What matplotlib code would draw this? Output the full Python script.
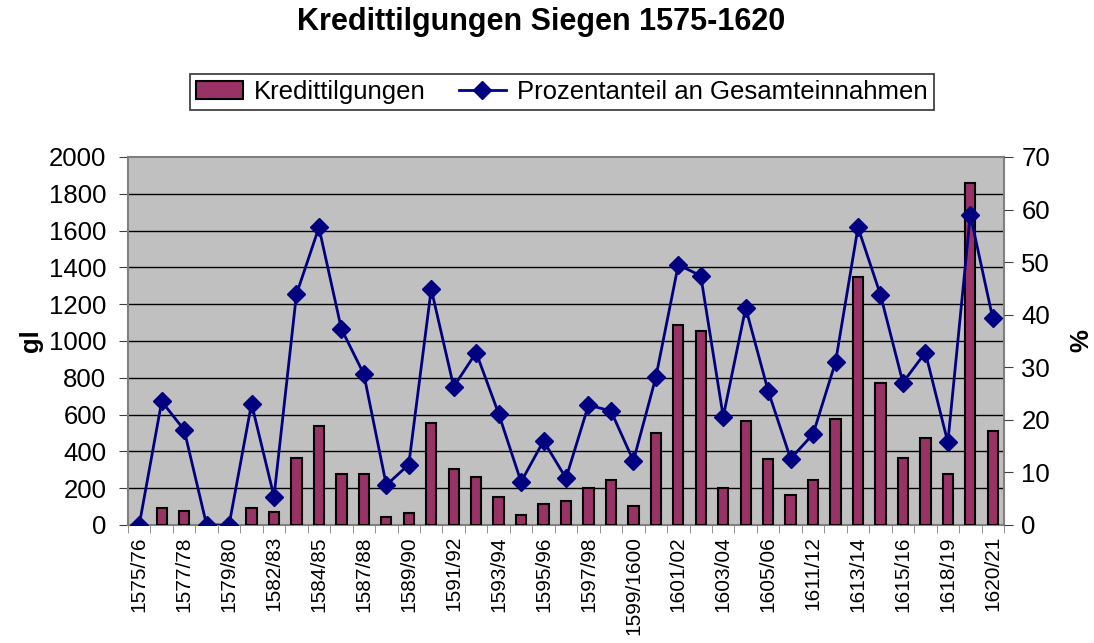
import matplotlib.pyplot as plt
import numpy as np

plt.rcParams['font.family'] = ['Liberation Sans', 'DejaVu Sans']

# Rechnungsjahre (nur jedes zweite wird beschriftet)
jahre = ['1575/76', '1576/77', '1577/78', '1578/79', '1579/80', '1581/82',
         '1582/83', '1583/84', '1584/85', '1586/87', '1587/88', '1588/89',
         '1589/90', '1590/91', '1591/92', '1592/93', '1593/94', '1594/95',
         '1595/96', '1596/97', '1597/98', '1598/99', '1599/1600', '1600/01',
         '1601/02', '1602/03', '1603/04', '1604/05', '1605/06', '1606/07',
         '1611/12', '1612/13', '1613/14', '1614/15', '1615/16', '1617/18',
         '1618/19', '1619/20', '1620/21']

# Kredittilgungen in gl
tilgung = [0, 90, 78, 0, 0, 92, 69, 362, 538, 275, 275, 43, 65, 556, 306,
           263, 152, 53, 116, 132, 203, 243, 101, 498, 1085, 1052, 203, 565,
           361, 161, 243, 576, 1348, 772, 362, 471, 277, 1860, 513]

# Prozentanteil an Gesamteinnahmen
prozent = [0, 23.5, 18.1, 0, 0, 23.1, 5.4, 43.9, 56.6, 37.3, 28.7, 7.6, 11.5,
           44.9, 26.3, 32.8, 21.2, 8.2, 16.0, 8.9, 22.8, 21.7, 12.2, 28.1,
           49.5, 47.4, 20.6, 41.3, 25.5, 12.6, 17.3, 31.0, 56.6, 43.8, 27.1,
           32.8, 15.7, 59.0, 39.3]

W, H = 1094, 643
fig = plt.figure(figsize=(W / 100, H / 100), dpi=100)
ax = fig.add_axes([128 / W, 1 - 525 / H, 876 / W, 368 / H])
ax.set_facecolor('#C0C0C0')

x = np.arange(len(jahre))
bars = ax.bar(x, tilgung, width = 0.46, color = '#993366', edgecolor = 'black',
              linewidth = 1.5, zorder = 3, label = 'Kredittilgungen')

ax.set_xlim(-0.5, len(jahre) - 0.5)
ax.set_ylim(0, 2000)
ax.set_yticks(np.arange(0, 2001, 200))
for yy in np.arange(200, 2000, 200):
   ax.axhline(yy, color = 'black', linewidth = 1, zorder = 1)

ax.set_xticks(x[::2])
ax.set_xticklabels(jahre[::2], rotation = 90, fontsize = 15)
ax.set_xticks(np.arange(-0.5, len(jahre), 1), minor = True)
ax.tick_params(axis = 'x', which = 'major', length = 0, pad = 8)
ax.tick_params(axis = 'x', which = 'minor', length = 6, color = '#808080')
ax.tick_params(axis = 'y', labelsize = 18.5, length = 6.5, pad = 9,
               color = '#404040')

for side in ax.spines:
   ax.spines[side].set_color('#808080')
   ax.spines[side].set_linewidth(1.5)

ax.set_ylabel('gl', fontsize = 18.5, fontweight = 'bold', labelpad = 4)

ax2 = ax.twinx()
line, = ax2.plot(x, prozent, color = '#000080', linewidth = 2, marker = 'D',
                 markersize = 9, label = 'Prozentanteil an Gesamteinnahmen',
                 zorder = 4)
ax2.set_ylim(0, 70)
ax2.set_yticks(np.arange(0, 71, 10))
ax2.tick_params(axis = 'y', labelsize = 18.5, length = 6.5, pad = 6,
                color = '#404040')
for side in ax2.spines:
   ax2.spines[side].set_visible(False)
ax2.set_ylabel('%', fontsize = 18.5, fontweight = 'bold', labelpad = 14)

fig.suptitle('Kredittilgungen Siegen 1575-1620', fontsize = 22,
             fontweight = 'bold', x = 541 / W, y = 1 - 22 / H, va = 'center')

leg = fig.legend([bars, line], ['Kredittilgungen', 'Prozentanteil an Gesamteinnahmen'],
                 loc = 'center', bbox_to_anchor = (562 / W, 1 - 92 / H), ncol = 2,
                 fontsize = 18.5, frameon = True, fancybox = False,
                 edgecolor = 'black', handlelength = 1.8, columnspacing = 1.3,
                 handletextpad = 0.45, borderpad = 0.25)
leg.get_frame().set_linewidth(1.2)

plt.savefig('out.png', dpi = 100)
